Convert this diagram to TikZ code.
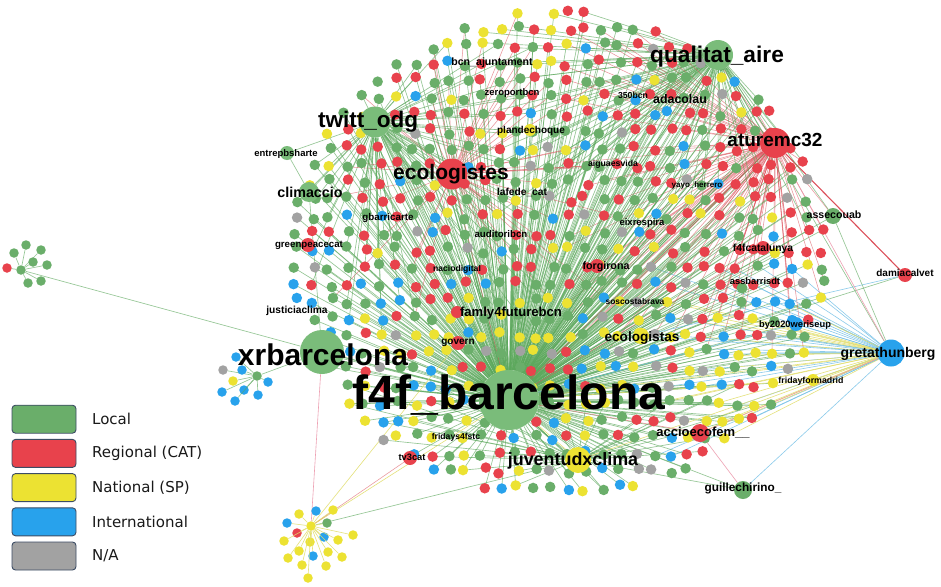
\documentclass[tikz,border=0pt]{standalone}
\usepackage{fontspec}
\setmainfont{Liberation Sans}
\newfontfamily\legfont{DejaVu Sans}
\pgfdeclarelayer{bg}
\pgfdeclarelayer{front}
\pgfsetlayers{bg,main,front}
\definecolor{cG}{RGB}{106,174,106}
\definecolor{cR}{RGB}{232,66,76}
\definecolor{cY}{RGB}{236,226,50}
\definecolor{cB}{RGB}{40,162,236}
\definecolor{cN}{RGB}{162,162,162}
\definecolor{hG}{RGB}{122,188,122}
\definecolor{eG}{RGB}{92,168,92}
\definecolor{eR}{RGB}{220,80,90}
\definecolor{eY}{RGB}{226,222,110}
\definecolor{eB}{RGB}{110,190,230}
\definecolor{eP}{RGB}{236,150,170}
\definecolor{legline}{RGB}{60,76,100}
\tikzset{
  dot/.style={circle,inner sep=0pt,minimum size=10.5pt,draw=none},
  sdot/.style={circle,inner sep=0pt,minimum size=9.5pt,draw=none},
  hubnode/.style={circle,inner sep=0pt,draw=none,minimum size=#1},
  lab/.style={inner sep=0pt,text=black,anchor=base,font=\bfseries\fontsize{#1}{#1}\selectfont},
  gedge/.style={draw=eG,line width=0.65pt,opacity=0.65},
  redge/.style={draw=eR,line width=0.55pt,opacity=0.6},
  yedge/.style={draw=eY,line width=0.6pt,opacity=0.9},
  bedge/.style={draw=eB,line width=0.6pt,opacity=0.8},
  pedge/.style={draw=eP,line width=0.6pt,opacity=0.9},
  legbox/.style={draw=legline,line width=0.9pt,rounded corners=3.5pt,minimum width=64pt,minimum height=28pt,inner sep=0pt},
  legtext/.style={font=\legfont\fontsize{15}{15}\selectfont,anchor=west,inner sep=0pt,text=black!90},
}
\newcommand\choosecol[4]{%
  \ifdim\rv pt<#1pt \def\dc{cG}\else
  \ifdim\rv pt<#2pt \def\dc{cR}\else
  \ifdim\rv pt<#3pt \def\dc{cY}\else
  \ifdim\rv pt<#4pt \def\dc{cB}\else \def\dc{cN}\fi\fi\fi\fi}
% all random draws for one grid cell (identical in both passes)
\newcommand\genpoint{%
  \pgfmathsetmacro\px{262+\gx*17+3.5*rand}%
  \pgfmathsetmacro\py{12+\gy*17+3.5*rand}%
  \pgfmathsetmacro\rv{rnd}%
  \pgfmathsetmacro\ea{rnd}%
  \pgfmathsetmacro\eb{rnd}%
  \pgfmathsetmacro\ec{rnd}%
  \pgfmathsetmacro\ed{rnd}%
  \pgfmathtruncatemacro\ins{((((\px-558)/268)^2+((\py-256)/246)^2)<1)?1:0}%
  \ifdim\py pt<300pt
    \ifdim\px pt>560pt \choosecol{0.30}{0.75}{0.88}{0.97}\else\choosecol{0.43}{0.69}{0.87}{0.97}\fi
  \else \choosecol{0.33}{0.53}{0.80}{0.97}\fi}
\newcommand\hublabel[5]{% name, text, x, ycenter, size
  \pgfmathsetmacro\yb{#4+0.36*#5}%
  \node[lab=#5] (#1) at (#3,\yb) {#2};}
\begin{document}
\begin{tikzpicture}[x=1pt,y=-1pt]
\useasboundingbox (0,0) rectangle (941,586);
\begin{pgfonlayer}{bg}
\fill[white] (0,0) rectangle (941,586);
\end{pgfonlayer}
% ---------------- hubs ----------------
\begin{pgfonlayer}{front}
\node[hubnode=60pt,fill=hG] (f4f) at (509,400) {};
\node[hubnode=44pt,fill=hG] (xrb) at (322,352) {};
\node[hubnode=31pt,fill=hG] (twitt) at (375,122) {};
\node[hubnode=31pt,fill=cR] (ecolo) at (452,174) {};
\node[hubnode=30pt,fill=hG] (qa) at (718,55) {};
\node[hubnode=30pt,fill=cR] (atu) at (775,143) {};
\node[hubnode=20pt,fill=hG] (clim) at (309,192) {};
\node[hubnode=14pt,fill=hG] (entrep) at (287,153) {};
\node[hubnode=27pt,fill=cB] (greta) at (891,353) {};
\node[hubnode=16pt,fill=cY] (ecolas) at (641,336) {};
\node[hubnode=26pt,fill=cY] (juv) at (578,460) {};
\node[hubnode=18pt,fill=cR] (accio) at (700,433) {};
\node[hubnode=18pt,fill=cG] (guille) at (743,490) {};
\node[hubnode=16pt,fill=cG] (assec) at (833,216) {};
\node[hubnode=14pt,fill=cR] (damia) at (905,275) {};
\node[hubnode=14pt,fill=cB] (by20) at (796,324) {};
\node[hubnode=14pt,fill=cR] (f4fcat) at (763,248) {};
\node[hubnode=11pt,fill=cG] (assb) at (742,288) {};
\node[hubnode=14pt,fill=cR] (forg) at (597,266) {};
\node[hubnode=12pt,fill=cY] (frimad) at (813,380) {};
\node[hubnode=14pt,fill=cR] (gov) at (458,343) {};
\node[hubnode=12pt,fill=cR] (fam) at (457,312) {};
\node[hubnode=14pt,fill=cR] (gpc) at (308,245) {};
\node[hubnode=14pt,fill=cR] (tv3) at (410,458) {};
\node[hubnode=12pt,fill=cY] (plan) at (530,130) {};
\end{pgfonlayer}
% ---------------- pass 1: connectors of the cloud ----------------
\pgfmathsetseed{4242}
\foreach \gx in {0,...,35}{
  \foreach \gy in {0,...,29}{
    \genpoint
    \ifnum\ins=1
      \coordinate (p\gx-\gy) at (\px,\py);
      \ifdim\ea pt<0.74pt \draw[gedge] (f4f) -- (p\gx-\gy);\fi
      \ifdim\py pt<230pt \ifdim\px pt>470pt \ifdim\eb pt<0.42pt \draw[gedge] (qa) -- (p\gx-\gy);\fi\fi\fi
      \ifdim\py pt<340pt \ifdim\px pt<540pt \ifdim\ec pt<0.32pt \draw[gedge] (twitt) -- (p\gx-\gy);\fi\fi\fi
      \ifdim\py pt<360pt \ifdim\px pt>560pt \ifdim\ed pt<0.34pt \draw[redge] (atu) -- (p\gx-\gy);\fi\fi\fi
      \ifdim\py pt<320pt \ifdim\px pt<620pt \ifdim\ed pt>0.84pt \draw[redge] (ecolo) -- (p\gx-\gy);\fi\fi\fi
      \ifdim\py pt>380pt \ifdim\eb pt>0.75pt \draw[gedge] (juv) -- (p\gx-\gy);\fi\fi
      \ifdim\px pt>650pt \ifdim\py pt>260pt \ifdim\py pt<470pt \ifdim\ec pt<0.3pt \draw[bedge] (greta) -- (p\gx-\gy);\fi\fi\fi\fi
      \ifdim\px pt>650pt \ifdim\py pt>300pt \ifdim\ec pt>0.8pt \draw[yedge] (greta) -- (p\gx-\gy);\fi\fi\fi
    \fi
  }
}
% ---------------- hub-to-hub connectors ----------------
\draw[gedge] (twitt) -- (entrep);
\draw[gedge] (entrep) -- (clim);
\draw[gedge] (clim) -- (twitt);
\draw[gedge] (clim) -- (xrb);
\draw[gedge] (twitt) -- (f4f);
\draw[gedge] (qa) -- (f4f);
\draw[redge] (atu) -- (f4f);
\draw[redge] (ecolo) -- (f4f);
\draw[gedge] (qa) -- (greta);
\draw[gedge] (qa) -- (atu);
\draw[draw=eR,line width=1.1pt] (atu) -- (damia);
\draw[gedge] (damia) -- (f4f);
\draw[bedge] (damia) -- (ecolas);
\draw[yedge] (greta) -- (f4f);
\draw[bedge] (greta) -- (by20);
\draw[yedge] (greta) -- (frimad);
\draw[pedge] (greta) -- (accio);
\draw[gedge] (greta) -- (assec);
\draw[yedge] (greta) -- (juv);
\draw[pedge] (greta) -- (atu);
\draw[bedge] (greta) -- (guille);
\draw[bedge] (greta) -- (ecolas);
\draw[pedge] (guille) -- (accio);
\draw[gedge] (guille) -- (f4f);
\draw[gedge] (guille) -- (juv);
\draw[gedge] (assec) -- (f4f);
\draw[redge] (assec) -- (atu);
\draw[gedge] (assec) -- (qa);
\draw[bedge] (by20) -- (f4f);
\draw[yedge] (frimad) -- (f4f);
\draw[gedge] (xrb) -- (f4f);
\draw[redge] (accio) -- (f4f);
\draw[yedge] (juv) -- (f4f);
\draw[redge] (f4fcat) -- (f4f);
\draw[gedge] (assb) -- (f4f);
% ---------------- small clusters ----------------
\node[sdot,fill=cG] (L0) at (21,270) {};
\node[sdot,fill=cG] (X0) at (257,376) {};
\node[sdot,fill=cY] (B0) at (311,526) {};
\draw[gedge] (L0) -- (xrb);
\draw[gedge] (X0) -- (xrb);
\draw[yedge] (B0) -- (f4f);
\draw[gedge] (B0) -- (juv);
\draw[pedge] (B0) -- (xrb);
\draw[redge] (B0) -- (tv3);
\draw[yedge] (B0) -- (gov);
\foreach \c/\x/\y [count=\k] in {cR/7/268,cG/26/245,cG/14/253,cG/41/250,cG/33/262,cG/47/265,cG/28/283,cG/41/281}{
  \node[sdot,fill=\c] (L\k) at (\x,\y) {};
  \draw[gedge] (L0) -- (L\k);
}
\foreach \c/\x/\y [count=\k] in {cB/236/357,cN/223/370,cB/242/370,cY/233/381,cB/222/392,cB/244/390,cB/235/401,cB/268/382,cB/258/395}{
  \node[sdot,fill=\c] (X\k) at (\x,\y) {};
  \draw[gedge] (X0) -- (X\k);
}
\foreach \c/\x/\y [count=\k] in {cY/299/514,cB/316/511,cY/333/510,cB/287/523,cG/327/523,cR/297/533,cY/353/535,cY/284/541,cY/310/542,cB/324/537,cY/338/540,cY/288/558,cY/299/551,cB/313/556,cY/328/552,cY/342/557,cY/302/565,cY/326/566,cY/308/578}{
  \node[sdot,fill=\c] (B\k) at (\x,\y) {};
  \draw[yedge] (B0) -- (B\k);
}
% ---------------- pass 2: the accounts themselves ----------------
\pgfmathsetseed{4242}
\foreach \gx in {0,...,35}{
  \foreach \gy in {0,...,29}{
    \genpoint
    \ifnum\ins=1
      \node[dot,fill=\dc] (d\gx-\gy) at (p\gx-\gy) {};
    \fi
  }
}
% ---------------- labels ----------------
\begin{pgfonlayer}{front}
\hublabel{tf4f}{f4f\_barcelona}{509}{392}{48}
\hublabel{txrb}{xrbarcelona}{323}{355}{30}
\hublabel{ttwitt}{twitt\_odg}{368}{119}{22.5}
\hublabel{tecolo}{ecologistes}{451}{172}{21}
\hublabel{tqa}{qualitat\_aire}{717}{54}{22.7}
\hublabel{tatu}{aturemc32}{775}{140}{19}
\hublabel{tclim}{climaccio}{310}{192}{14.3}
\hublabel{tentrep}{entrepbsharte}{286}{153}{9.5}
\hublabel{tgreta}{gretathunberg}{888}{352}{14}
\hublabel{tecolas}{ecologistas}{642}{337}{13.6}
\hublabel{tjuv}{juventudxclima}{573}{459}{17.9}
\hublabel{taccio}{accioecofem\_\_}{703}{432}{13}
\hublabel{tguille}{guillechirino\_}{743}{487}{11.8}
\hublabel{tassec}{assecouab}{834}{215}{10.6}
\hublabel{tdamia}{damiacalvet}{905}{273}{10}
\hublabel{tby20}{by2020weriseup}{795}{324}{9.3}
\hublabel{tfrimad}{fridayformadrid}{811}{380}{8.8}
\hublabel{tf4fcat}{f4fcatalunya}{763}{248}{10.3}
\hublabel{tassb}{assbarrisdt}{755}{281}{9.3}
\hublabel{tsos}{soscostabrava}{635}{301}{8.4}
\hublabel{tforg}{forgirona}{606}{266}{10.7}
\hublabel{teix}{eixrespira}{642}{222}{9.5}
\hublabel{tyayo}{yayo\_herrero}{697}{185}{8}
\hublabel{t350}{350bcn}{633}{95}{8.7}
\hublabel{tada}{adacolau}{680}{99}{12.4}
\hublabel{taig}{aiguaesvida}{613}{163}{8.7}
\hublabel{tplan}{plandechoque}{531}{130}{10}
\hublabel{tzero}{zeroportbcn}{512}{92}{9.5}
\hublabel{tbcn}{bcn\_ajuntament}{492}{62}{10.6}
\hublabel{tlafede}{lafede\_cat}{522}{192}{10.2}
\hublabel{taud}{auditoribcn}{501}{234}{9.7}
\hublabel{tnacio}{naciodigital}{457}{268}{8.6}
\hublabel{tgbar}{gbarricarte}{388}{217}{9.8}
\hublabel{tgpc}{greenpeacecat}{309}{244}{9.7}
\hublabel{tjust}{justiciaclima}{297}{310}{10.2}
\hublabel{tfam}{famly4futurebcn}{511}{312}{13.1}
\hublabel{tgov}{govern}{458}{341}{10}
\hublabel{tfri}{fridays4fstc}{456}{436}{8.6}
\hublabel{ttv3}{tv3cat}{412}{457}{9.3}
\end{pgfonlayer}
% ---------------- legend ----------------
\foreach \c/\t [count=\k] in {cG/{Local},cR/{Regional (CAT)},cY/{National (SP)},cB/{International},cN/{N/A}}{
  \node[legbox,fill=\c] (lg\k) at (44,385+\k*34.2) {};
  \node[legtext] (lt\k) at (92,385+\k*34.2) {\t};
}
\end{tikzpicture}
\end{document}
